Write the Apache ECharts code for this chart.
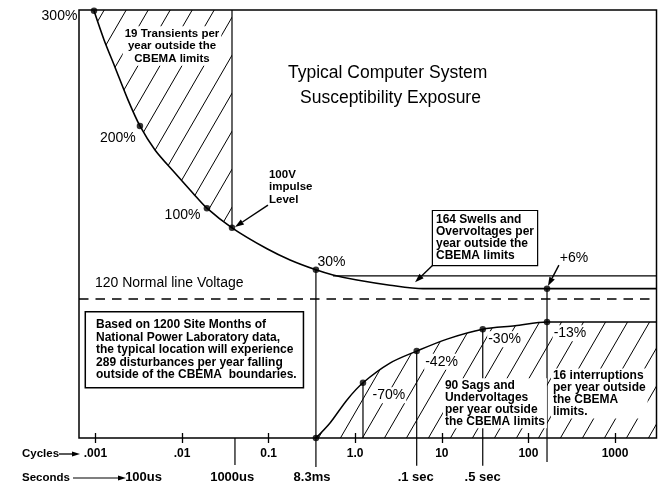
<!DOCTYPE html>
<html><head><meta charset="utf-8">
<script src="https://cdn.jsdelivr.net/npm/echarts@6/dist/echarts.min.js"></script>
<style>html,body{margin:0;padding:0;background:#fff}#c{width:659px;height:485px}</style>
</head><body><div id="c"></div>
<script>
// X: duration in cycles (60 Hz), log axis. Y: schematic height of the drawing (0 = baseline, 100 = 300% top edge)
const cycleTicks = [0.001, 0.01, 0.1, 1, 10, 100, 1000];
const cycleTickLabels = ['.001', '.01', '0.1', '1.0', '10', '100', '1000'];
const secondsAt = [0.0036, 0.038, 0.317, 5.0, 29.6];
const secondsLabels = ['100us', '1000us', '8.3ms', '.1 sec', '.5 sec'];

const upperX = [0.000964, 0.00126, 0.00168, 0.00238, 0.00327, 0.00488, 0.0083, 0.0134, 0.0194, 0.0378, 0.0959, 0.177, 0.352, 0.554, 1.05, 2.52, 6.06, 3013];
const upperY = [99.8, 93.0, 86.7, 79.0, 72.9, 67.3, 61.9, 57.2, 53.7, 49.1, 44.2, 41.6, 39.3, 38.1, 36.9, 35.7, 34.9, 34.9];
const transientEnd = 9;

const lowerX = [0.352, 0.512, 0.804, 1.23, 2.52, 5.13, 11.5, 29.7, 70.0, 164, 3013];
const lowerY = [0, 3.5, 8.9, 12.9, 17.5, 20.3, 23.1, 25.4, 26.2, 27.1, 27.1];

const swellX = [0.554, 3013];
const swellY = [37.9, 37.9];
const normalLevel = 32.6;

const dotX = [0.000964, 0.00327, 0.0194, 0.0378, 0.352, 164, 164, 29.7, 5.13, 1.23, 0.352];
const dotY = [99.8, 72.9, 53.7, 49.1, 39.3, 34.9, 27.1, 25.4, 20.3, 12.9, 0];

const dropX = [0.0378, 0.0409, 0.352, 1.23, 5.13, 29.7, 164];
const dropTop = [100, 0, 39.3, 12.9, 20.3, 25.4, 34.9];
const dropBottom = [49.1, -6.3, -6.8, 0, -6.5, -6.5, -5.6];

const arrowFromX = [0.0984, 7.91, 225];
const arrowFromY = [54.4, 40.4, 40.4];
const arrowToX = [0.0409, 4.91, 168];
const arrowToY = [49.3, 36.4, 35.5];

const noteText = [
  '300%',
  '19 Transients per\nyear outside the\nCBEMA limits',
  '100V\nimpulse\nLevel',
  '30%', '200%', '100%',
  '164 Swells and\nOvervoltages per\nyear outside the\nCBEMA limits',
  '+6%',
  '120 Normal line Voltage',
  'Based on 1200 Site Months of\nNational Power Laboratory data,\nthe typical location will experience\n289 disturbances per year falling\noutside of the CBEMA  boundaries.',
  '-70%', '-42%', '-30%', '-13%',
  '90 Sags and\nUndervoltages\nper year outside\nthe CBEMA limits',
  '16 interruptions\nper year outside\nthe CBEMA\nlimits.'
];
const noteX = [0.000385, 0.00767, 0.101, 0.532, 0.00182, 0.01014, 7.91, 336, 0.000989, 0.00078, 2.45, 9.93, 53.0, 302, 10.3, 182];
const noteY = [98.6, 91.6, 58.6, 41.1, 70.1, 52.1, 46.7, 42.1, 36.2, 20.6, 10.0, 17.8, 23.1, 24.5, 8.1, 10.4];
const noteKind = ['pct', 'hatchC', 'bodyL', 'pct', 'pct', 'pct', 'box', 'pct', 'plain', 'box2', 'pctBg', 'pctBg', 'pctBg', 'pctBg', 'hatchL', 'hatchL'];

const F = "'Liberation Sans', Arial, sans-serif";
const noteStyles = {
  hatchC: {font: 'bold 11.5px ' + F, align: 'center', verticalAlign: 'middle', lineHeight: 12.5, backgroundColor: '#fff', padding: [1, 2]},
  hatchL: {font: 'bold 12px ' + F, align: 'left', verticalAlign: 'middle', lineHeight: 12, backgroundColor: '#fff', padding: [1, 2]},
  bodyL: {font: 'bold 11.5px ' + F, align: 'left', verticalAlign: 'middle', lineHeight: 12.5},
  pct: {font: '14px ' + F, align: 'center', verticalAlign: 'middle'},
  pctBg: {font: '14px ' + F, align: 'center', verticalAlign: 'middle', backgroundColor: '#fff', padding: [1, 1]},
  plain: {font: '14px ' + F, align: 'left', verticalAlign: 'middle'},
  box: {font: 'bold 12px ' + F, align: 'left', verticalAlign: 'middle', lineHeight: 12, backgroundColor: '#fff', borderColor: '#000', borderWidth: 1.2, padding: [3, 3, 3, 3]},
  box2: {font: 'bold 12px ' + F, align: 'left', verticalAlign: 'middle', lineHeight: 12.5, backgroundColor: '#fff', borderColor: '#000', borderWidth: 1.5, padding: [6, 6, 6, 10]}
};

function hatchPattern(w, h) {
  const c = document.createElement('canvas');
  c.width = w; c.height = h;
  const g = c.getContext('2d');
  g.strokeStyle = '#000'; g.lineWidth = 1;
  g.beginPath();
  [-w, 0, w].forEach(function (dx) { g.moveTo(dx - w, 2 * h); g.lineTo(dx + 2 * w, -h); });
  g.stroke();
  return c;
}
const hatch = {image: hatchPattern(22, 38), repeat: 'repeat'};

function nearestLabel(v, at, labels) {
  let best = 0, bd = Infinity;
  at.forEach(function (a, i) { const d = Math.abs(Math.log10(v) - Math.log10(a)); if (d < bd) { bd = d; best = i; } });
  return labels[best];
}

const XMIN = 0.000647, XMAX = 3013;
const chart = echarts.init(document.getElementById('c'), null, {renderer: 'canvas'});
const black = '#000';
const baseX = {type: 'log', logBase: 10, min: XMIN, max: XMAX, position: 'bottom', splitLine: {show: false}, axisLine: {show: false}};

chart.setOption({
  animation: false,
  backgroundColor: '#fff',
  title: [
    {text: 'Typical Computer System', left: 288, top: 64, padding: 0, textStyle: {fontFamily: F, fontWeight: 'normal', fontSize: 17.5, color: black, lineHeight: 18}},
    {text: 'Susceptibility Exposure', left: 300, top: 89, padding: 0, textStyle: {fontFamily: F, fontWeight: 'normal', fontSize: 17.5, color: black, lineHeight: 18}}
  ],
  grid: {left: 79, right: 2.5, top: 10, bottom: 47, show: true, borderColor: black, borderWidth: 1.5, backgroundColor: '#fff', outerBoundsMode: 'none', containLabel: false},
  xAxis: [
    Object.assign({}, baseX, {
      axisTick: {show: true, length: 5, customValues: cycleTicks, lineStyle: {color: black, width: 1.3}},
      axisLabel: {show: true, customValues: cycleTicks, margin: 10, color: black, fontFamily: F, fontWeight: 'bold', fontSize: 12,
        formatter: function (v) { return nearestLabel(v, cycleTicks, cycleTickLabels); }}
    }),
    Object.assign({}, baseX, {
      axisTick: {show: true, inside: true, length: 5, customValues: cycleTicks, lineStyle: {color: black, width: 1.3}},
      axisLabel: {show: false}
    }),
    Object.assign({}, baseX, {
      axisTick: {show: false},
      axisLabel: {show: true, customValues: secondsAt, margin: 33, color: black, fontFamily: F, fontWeight: 'bold', fontSize: 13,
        formatter: function (v) { return nearestLabel(v, secondsAt, secondsLabels); }}
    })
  ],
  yAxis: {type: 'value', min: 0, max: 100, show: false},
  graphic: [
    {type: 'text', left: 22, top: 448, style: {text: 'Cycles', font: 'bold 11.5px ' + F, fill: black}},
    {type: 'line', shape: {x1: 59, y1: 454, x2: 74, y2: 454}, style: {stroke: black, lineWidth: 1.3}},
    {type: 'polygon', shape: {points: [[80, 454], [72, 451.5], [72, 456.5]]}, style: {fill: black}},
    {type: 'text', left: 22, top: 472, style: {text: 'Seconds', font: 'bold 11.5px ' + F, fill: black}},
    {type: 'line', shape: {x1: 73, y1: 478, x2: 119, y2: 478}, style: {stroke: black, lineWidth: 1.1}},
    {type: 'polygon', shape: {points: [[126, 478], [118, 475.5], [118, 480.5]]}, style: {fill: black}}
  ],
  series: [
    {
      name: 'transients', type: 'line', z: 2, symbol: 'none', smooth: 0.3,
      data: upperX.slice(0, transientEnd + 1).map(function (x, i) { return [x, upperY[i]]; }),
      lineStyle: {width: 0}, areaStyle: {origin: 'end', color: hatch, opacity: 1}
    },
    {
      name: 'sags', type: 'line', z: 3, symbol: 'none', smooth: 0.3,
      data: lowerX.map(function (x, i) { return [x, lowerY[i]]; }),
      lineStyle: {width: 1.5, color: black}, areaStyle: {origin: 'start', color: hatch, opacity: 1}
    },
    {
      name: 'upper', type: 'line', z: 3, symbol: 'none', smooth: 0.3,
      data: upperX.map(function (x, i) { return [x, upperY[i]]; }),
      lineStyle: {width: 1.6, color: black}
    },
    {
      name: 'swells', type: 'line', z: 3, symbol: 'none',
      data: swellX.map(function (x, i) { return [x, swellY[i]]; }),
      lineStyle: {width: 1.3, color: black},
      markLine: {silent: true, symbol: ['none', 'none'], label: {show: false},
        lineStyle: {type: [9.5, 7], width: 1.6, color: black}, data: [{yAxis: normalLevel}]}
    },
    {
      name: 'drops', type: 'custom', z: 3, clip: false, silent: true,
      data: dropX.map(function (x, i) { return [x, dropTop[i], dropBottom[i]]; }),
      encode: {x: 0, y: [1, 2]},
      renderItem: function (p, api) {
        const a = api.coord([api.value(0), api.value(1)]);
        const b = api.coord([api.value(0), api.value(2)]);
        return {type: 'line', shape: {x1: a[0], y1: a[1], x2: b[0], y2: b[1]}, style: {stroke: black, lineWidth: 1.2}};
      }
    },
    {
      name: 'arrows', type: 'custom', z: 6, clip: false, silent: true,
      data: arrowFromX.map(function (x, i) { return [x, arrowFromY[i], arrowToX[i], arrowToY[i]]; }),
      encode: {x: [0, 2], y: [1, 3]},
      renderItem: function (p, api) {
        const a = api.coord([api.value(0), api.value(1)]);
        const b = api.coord([api.value(2), api.value(3)]);
        const ang = Math.atan2(b[1] - a[1], b[0] - a[0]);
        const L = 9, W = 3;
        const bx = b[0] - L * Math.cos(ang), by = b[1] - L * Math.sin(ang);
        const nx = -Math.sin(ang) * W, ny = Math.cos(ang) * W;
        return {type: 'group', children: [
          {type: 'line', shape: {x1: a[0], y1: a[1], x2: bx, y2: by}, style: {stroke: black, lineWidth: 1.4}},
          {type: 'polygon', shape: {points: [[b[0], b[1]], [bx + nx, by + ny], [bx - nx, by - ny]]}, style: {fill: black}}
        ]};
      }
    },
    {
      name: 'points', type: 'scatter', z: 5, symbolSize: 6.5, silent: true,
      itemStyle: {color: black},
      data: dotX.map(function (x, i) { return [x, dotY[i]]; })
    },
    {
      name: 'notes', type: 'custom', z: 7, clip: false, silent: true,
      data: noteX.map(function (x, i) { return [x, noteY[i], i]; }),
      encode: {x: 0, y: 1},
      renderItem: function (p, api) {
        const i = api.value(2);
        const pt = api.coord([api.value(0), api.value(1)]);
        return {type: 'text', x: pt[0], y: pt[1], style: Object.assign({text: noteText[i], fill: black}, noteStyles[noteKind[i]])};
      }
    }
  ]
});
</script>
</body></html>
